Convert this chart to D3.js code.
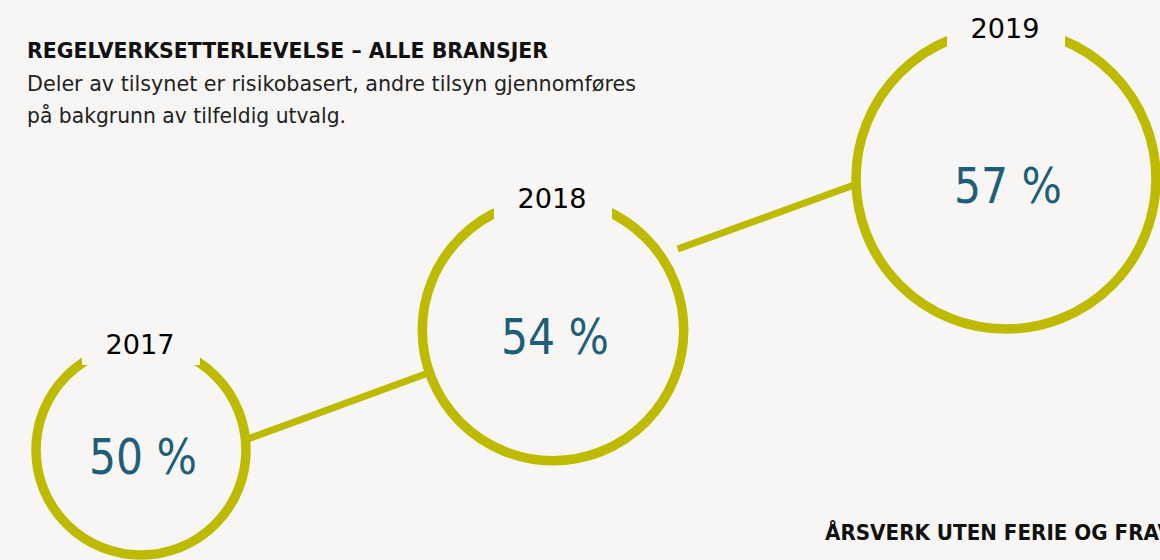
<!DOCTYPE html>
<html>
<head>
<meta charset="utf-8">
<script src="https://cdn.jsdelivr.net/npm/d3@7"></script>
<style>
  html, body { margin: 0; padding: 0; background: #f7f6f4; }
  svg { display: block; }
</style>
</head>
<body>
<div id="chart"></div>
<script>
"use strict";

// data
const years = [2017, 2018, 2019];
const shares = [50, 54, 57];
const title = "REGELVERKSETTERLEVELSE – ALLE BRANSJER";
const subtitle = ["Deler av tilsynet er risikobasert, andre tilsyn gjennomføres", "på bakgrunn av tilfeldig utvalg."];
const nextTitle = "ÅRSVERK UTEN FERIE OG FRAVÆR";

const width = 1160, height = 560;
const olive = "#bdba00", teal = "#1e5e79", bg = "#f7f6f4";

const svg = d3.select("#chart").append("svg")
  .attr("width", width)
  .attr("height", height)
  .style("background", bg);

// layout: circles step up and grow with the share
const x = d3.scaleLinear().domain(years).range([141, 553, 1006]);
const y = d3.scaleLinear().domain(shares).range([450, 330, 179]);
const r = d3.scaleLinear().domain([50, 57]).range([105, 150]);

const nodes = years.map((yr, i) => ({year: yr, value: shares[i], cx: x(yr), cy: y(shares[i]), r: r(shares[i])}));

// connectors run between neighbours, leaving/entering at given angles (deg)
const links = [
  {a: nodes[0], b: nodes[1], angA: -6, offA: 3, angB: 161, offB: 2},
  {a: nodes[1], b: nodes[2], angA: -33, offA: 18, angB: 178, offB: 0}
];
const pt = (n, ang, off) => [n.cx + (n.r + off) * Math.cos(ang * Math.PI / 180), n.cy + (n.r + off) * Math.sin(ang * Math.PI / 180)];

svg.append("g")
  .selectAll("line")
  .data(links)
  .join("line")
  .attr("x1", d => pt(d.a, d.angA, d.offA)[0])
  .attr("y1", d => pt(d.a, d.angA, d.offA)[1])
  .attr("x2", d => pt(d.b, d.angB, d.offB)[0])
  .attr("y2", d => pt(d.b, d.angB, d.offB)[1])
  .attr("stroke", olive)
  .attr("stroke-width", 7);

const node = svg.append("g")
  .selectAll("g")
  .data(nodes)
  .join("g")
  .attr("transform", d => `translate(${d.cx},${d.cy})`);

node.append("circle")
  .attr("r", d => d.r)
  .attr("fill", "none")
  .attr("stroke", olive)
  .attr("stroke-width", 9.5);

// gap in the ring behind the year label
node.append("rect")
  .attr("x", -59)
  .attr("y", d => -d.r - 20)
  .attr("width", 118)
  .attr("height", 40)
  .attr("fill", bg);

node.append("text")
  .attr("x", -1)
  .attr("y", d => -d.r + 9)
  .attr("text-anchor", "middle")
  .attr("font-family", "DejaVu Sans, sans-serif")
  .attr("font-size", 27)
  .attr("fill", "#000")
  .attr("textLength", 69)
  .attr("lengthAdjust", "spacingAndGlyphs")
  .text(d => d.year);

node.append("text")
  .attr("x", 2)
  .attr("y", 24)
  .attr("text-anchor", "middle")
  .attr("font-family", "DejaVu Sans, sans-serif")
  .attr("font-size", 50)
  .attr("fill", teal)
  .attr("textLength", 108)
  .attr("lengthAdjust", "spacingAndGlyphs")
  .text(d => `${d.value} %`);

// heading
svg.append("text")
  .attr("x", 27)
  .attr("y", 58)
  .attr("font-family", "DejaVu Sans, sans-serif")
  .attr("font-weight", "bold")
  .attr("font-size", 22)
  .attr("fill", "#111")
  .attr("textLength", 521)
  .attr("lengthAdjust", "spacingAndGlyphs")
  .text(title);

const subLens = [609, 319];
svg.append("g")
  .selectAll("text")
  .data(subtitle)
  .join("text")
  .attr("x", 27)
  .attr("y", (d, i) => 91 + i * 32)
  .attr("font-family", "DejaVu Sans, sans-serif")
  .attr("font-size", 22)
  .attr("fill", "#222")
  .attr("textLength", (d, i) => subLens[i])
  .attr("lengthAdjust", "spacingAndGlyphs")
  .text(d => d);

// next panel's heading, cut by the right edge as in the source
svg.append("text")
  .attr("x", 825)
  .attr("y", 540)
  .attr("font-family", "DejaVu Sans, sans-serif")
  .attr("font-weight", "bold")
  .attr("font-size", 21)
  .attr("fill", "#111")
  .attr("textLength", 385)
  .attr("lengthAdjust", "spacingAndGlyphs")
  .text(nextTitle);
</script>
</body>
</html>
